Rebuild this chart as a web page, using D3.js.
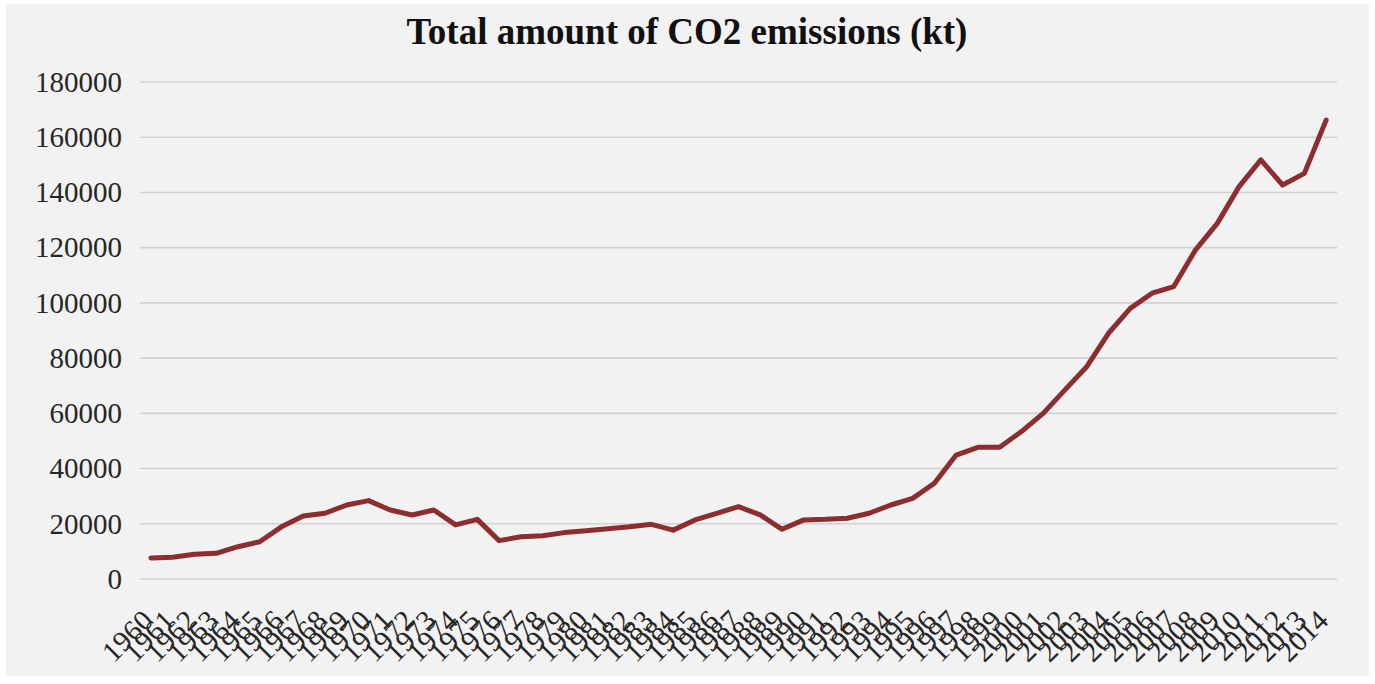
<!DOCTYPE html>
<html>
<head>
<meta charset="utf-8">
<script src="https://cdn.jsdelivr.net/npm/d3@7"></script>
<style>
  body { margin: 0; background: #ffffff; }
  svg { display: block; }
</style>
</head>
<body>
<div id="vis"></div>
<script>
/*
CO2 emissions line chart
*/
const FRAME_WIDTH = 1375;
const FRAME_HEIGHT = 684;
const MARGINS = {left: 140, right: 38, top: 82, bottom: 105};

const years = d3.range(1960, 2015).map(String);
const emissions = [
  7600, 7900, 9000, 9300, 11700, 13500, 18900, 22800, 23800, 26800,
  28400, 25000, 23200, 25000, 19600, 21600, 13900, 15300, 15700, 16800,
  17500, 18200, 18900, 19800, 17700, 21400, 23800, 26200, 23200, 18000,
  21400, 21600, 22000, 23800, 26800, 29200, 34700, 44900, 47700, 47700,
  53400, 60000, 68500, 76900, 89000, 98000, 103500, 105900, 119200, 128800,
  142100, 151800, 142700, 146900, 166200
];
const yTicks = [0, 20000, 40000, 60000, 80000, 100000, 120000, 140000, 160000, 180000];
const title = "Total amount of CO2 emissions (kt)";

const VIS_WIDTH = FRAME_WIDTH - MARGINS.left - MARGINS.right;
const VIS_HEIGHT = FRAME_HEIGHT - MARGINS.top - MARGINS.bottom;

const FRAME = d3.select("#vis")
                .append("svg")
                  .attr("width", FRAME_WIDTH)
                  .attr("height", FRAME_HEIGHT);

// chart background (slightly inset, like the screenshot)
FRAME.append("rect")
    .attr("x", 6)
    .attr("y", 4)
    .attr("width", FRAME_WIDTH - 12)
    .attr("height", FRAME_HEIGHT - 12)
    .attr("fill", "#f2f2f2");

const X_SCALE = d3.scalePoint()
                  .domain(years)
                  .range([MARGINS.left, MARGINS.left + VIS_WIDTH])
                  .padding(0.5);

const Y_SCALE = d3.scaleLinear()
                  .domain([0, 180000])
                  .range([MARGINS.top + VIS_HEIGHT, MARGINS.top]);

// gridlines
FRAME.append("g")
    .selectAll("line")
    .data(yTicks)
    .enter()
    .append("line")
      .attr("x1", MARGINS.left)
      .attr("x2", MARGINS.left + VIS_WIDTH)
      .attr("y1", (d) => Y_SCALE(d))
      .attr("y2", (d) => Y_SCALE(d))
      .attr("stroke", "#d2d2d2")
      .attr("stroke-width", 1.6);

// y axis labels
const yAxis = FRAME.append("g")
    .attr("transform", "translate(" + (MARGINS.left - 18) + ",0)")
    .call(d3.axisLeft(Y_SCALE).tickValues(yTicks).tickFormat(d3.format("d"))
            .tickSize(0).tickPadding(0));
yAxis.select(".domain").remove();
yAxis.selectAll("text")
    .attr("font-family", "'Liberation Serif', 'Times New Roman', serif")
    .attr("font-size", "29px")
    .attr("fill", "#262626");

// x axis labels, rotated
const xAxis = FRAME.append("g")
    .attr("transform", "translate(-11," + (MARGINS.top + VIS_HEIGHT + 29) + ")")
    .call(d3.axisBottom(X_SCALE).tickSize(0).tickPadding(0));
xAxis.select(".domain").remove();
xAxis.selectAll("text")
    .attr("font-family", "'Liberation Serif', 'Times New Roman', serif")
    .attr("font-size", "29px")
    .attr("fill", "#262626")
    .attr("text-anchor", "end")
    .attr("dy", "0.7em")
    .attr("transform", "rotate(-45)");

// the line
const line = d3.line()
    .x((d, i) => X_SCALE(years[i]))
    .y((d) => Y_SCALE(d));

FRAME.append("path")
    .datum(emissions)
    .attr("d", line)
    .attr("fill", "none")
    .attr("stroke", "#8c2d30")
    .attr("stroke-width", 5)
    .attr("stroke-linejoin", "round")
    .attr("stroke-linecap", "round");

// title
FRAME.append("text")
    .attr("x", 687)
    .attr("y", 44)
    .attr("text-anchor", "middle")
    .attr("font-family", "'Liberation Serif', 'Times New Roman', serif")
    .attr("font-weight", "bold")
    .attr("font-size", "37px")
    .attr("fill", "#111")
    .text(title);
</script>
</body>
</html>
